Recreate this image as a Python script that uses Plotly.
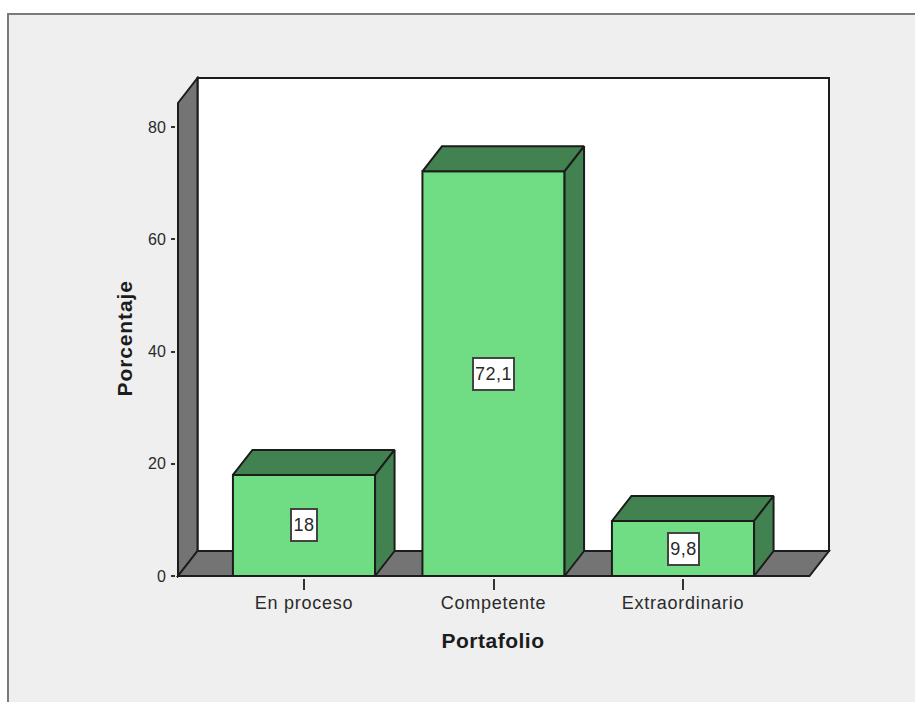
import plotly.graph_objects as go

categories = ["En proceso", "Competente", "Extraordinario"]
values = [18, 72.1, 9.8]
labels = ["18", "72,1", "9,8"]
y_ticks = [0, 20, 40, 60, 80]
x_title = "Portafolio"
y_title = "Porcentaje"

FACE = "#70DD85"
DARK = "#418250"
WALL = "#747474"
INK = "#1c1c1c"
FONT = "Liberation Sans"

# chart frame in pixels (walls and floor), with a small pad so outlines are not clipped
L, R, T, B = 178, 829, 78, 576
PAD = 2
PL, PR, PT, PB = L - PAD, R + PAD, T - PAD, B + PAD
W, H = 915, 702
PX_X = 189.5
PX_Y = 5.6125
x0_px = 304
DX = 19.5 / PX_X   # depth in data units
DY = 25 / PX_Y
BAR_W = 0.75
xmin = (L - x0_px) / PX_X
xmax = (R - x0_px) / PX_X
ymax = (B - T) / PX_Y
ytop_front = ymax - DY
xfront = xmax - DX
xs = list(range(len(categories)))

def path(pts):
    return "M " + " L ".join(f"{a},{b}" for a, b in pts) + " Z"

def px_x(p):
    return (p - PL) / (PR - PL)

def px_y(p):
    return (PB - p) / (PB - PT)

fig = go.Figure()

# page panel
shapes = [dict(type="rect", xref="paper", yref="paper", layer="below",
               x0=px_x(8), x1=px_x(940), y0=px_y(730), y1=px_y(14),
               fillcolor="#EFEFEF", line=dict(color="#7a7a7a", width=2))]
# back wall, left wall, floor
common = dict(type="path", xref="x", yref="y", layer="below", line=dict(color=INK, width=2))
shapes.append(dict(path=path([(xmin + DX, DY), (xmax, DY), (xmax, ymax), (xmin + DX, ymax)]),
                   fillcolor="white", **common))
shapes.append(dict(path=path([(xmin, 0), (xmin + DX, DY), (xmin + DX, ymax), (xmin, ytop_front)]),
                   fillcolor=WALL, **common))
shapes.append(dict(path=path([(xmin, 0), (xfront, 0), (xmax, DY), (xmin + DX, DY)]),
                   fillcolor=WALL, **common))

fig.add_trace(go.Bar(x=xs, y=values, width=BAR_W, marker=dict(color=FACE, line=dict(color=INK, width=2)),
                     showlegend=False, hoverinfo="skip"))

for x, v in zip(xs, values):
    a, b = x - BAR_W / 2, x + BAR_W / 2
    fig.add_trace(go.Scatter(x=[a, b, b + DX, a + DX, a], y=[v, v, v + DY, v + DY, v], mode="lines",
                             fill="toself", fillcolor=DARK, line=dict(color=INK, width=2),
                             showlegend=False, hoverinfo="skip"))
    fig.add_trace(go.Scatter(x=[b, b + DX, b + DX, b, b], y=[0, DY, v + DY, v, 0], mode="lines",
                             fill="toself", fillcolor=DARK, line=dict(color=INK, width=2),
                             showlegend=False, hoverinfo="skip"))

annotations = []
for x, v, t in zip(xs, values, labels):
    annotations.append(dict(x=x, y=v / 2, xref="x", yref="y", text=t, showarrow=False,
                            font=dict(family=FONT, size=18, color="#2a2a2a"), height=26,
                            bgcolor="white", bordercolor="#444444", borderwidth=2, borderpad=2))
annotations.append(dict(x=px_x(492.5), y=px_y(640), xref="paper", yref="paper", xanchor="center", yanchor="middle",
                        text=f"<b>{x_title}</b>", showarrow=False,
                        font=dict(family=FONT, size=21, color="#1c1c1c")))
annotations.append(dict(x=px_x(124), y=px_y(339), xref="paper", yref="paper", xanchor="center", yanchor="middle",
                        text=f"<b>{y_title}</b>", showarrow=False, textangle=-90,
                        font=dict(family=FONT, size=21, color="#1c1c1c")))

fig.update_layout(
    width=W, height=H, margin=dict(l=PL, r=W - PR, t=PT, b=H - PB),
    paper_bgcolor="white", plot_bgcolor="rgba(0,0,0,0)",
    shapes=shapes, annotations=annotations, showlegend=False,
    xaxis=dict(range=[(PL - x0_px) / PX_X, (PR - x0_px) / PX_X], tickvals=xs, ticktext=categories,
               showgrid=False, zeroline=False, ticks="outside", ticklen=11, tickwidth=2, tickcolor="#333333",
               ticklabelstandoff=-3, tickfont=dict(family=FONT, size=18, color="#2a2a2a")),
    yaxis=dict(range=[(B - PB) / PX_Y, (B - PT) / PX_Y], tickvals=y_ticks, showgrid=False, zeroline=False,
               ticks="outside", ticklen=4, tickwidth=2, tickcolor="#333333", ticklabelstandoff=2,
               tickfont=dict(family=FONT, size=16, color="#2a2a2a")),
)
post = """
document.body.style.margin='0';
document.querySelectorAll('.xtick text').forEach(t=>t.style.letterSpacing='0.75px');
const an=document.querySelectorAll('.annotation-text');
an.forEach((t,i)=>{t.style.letterSpacing=(i<3?'0.5px':(i==3?'0.5px':'0.9px'));});
"""
fig.write_html("out.html", config={"displayModeBar": False}, post_script=post)
